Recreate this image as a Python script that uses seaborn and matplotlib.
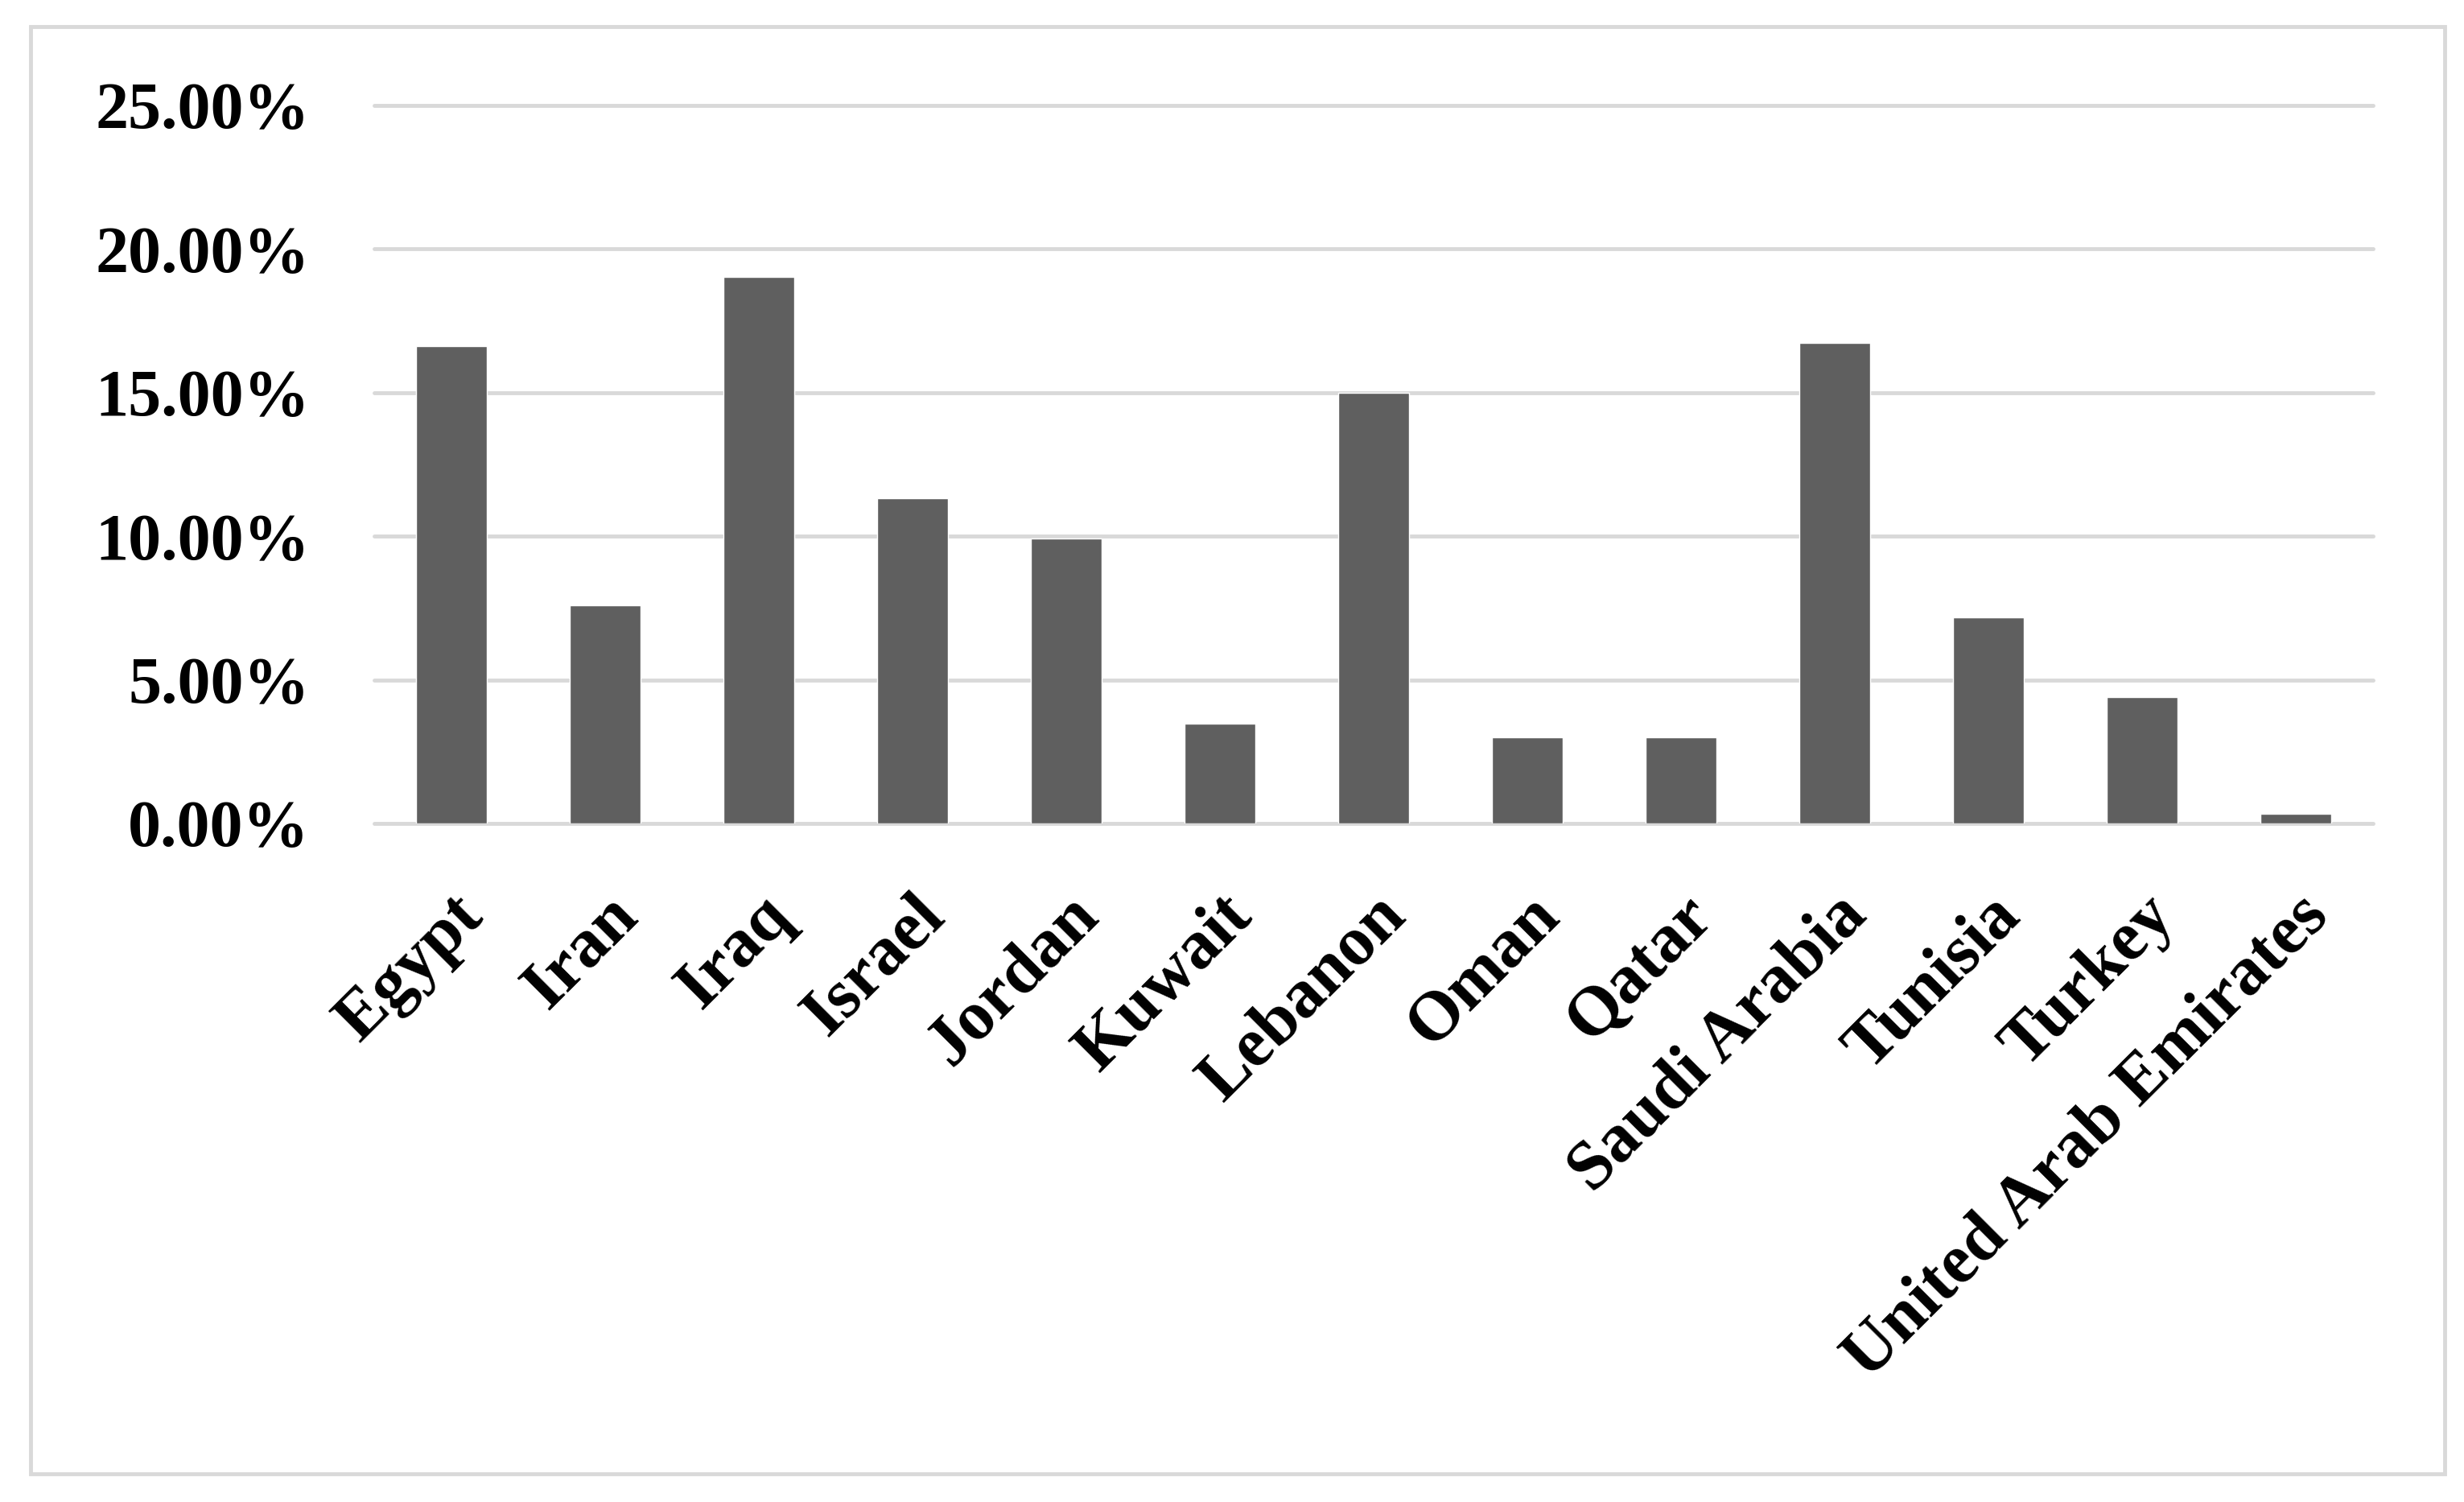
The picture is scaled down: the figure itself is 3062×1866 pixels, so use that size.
import matplotlib
matplotlib.use('Agg')
import matplotlib.pyplot as plt
import seaborn as sns
from matplotlib.patches import Rectangle

countries = ['Egypt', 'Iran', 'Iraq', 'Israel', 'Jordan', 'Kuwait', 'Lebanon',
             'Oman', 'Qatar', 'Saudi Arabia', 'Tunisia', 'Turkey',
             'United Arab Emirates']
shares = [16.62, 7.60, 19.03, 11.31, 9.93, 3.47, 15.00,
          3.00, 3.00, 16.74, 7.16, 4.39, 0.33]
y_ticks = [0, 5, 10, 15, 20, 25]

sns.set_style('white')
plt.rcParams['font.family'] = ['Liberation Serif', 'DejaVu Serif']
plt.rcParams['font.weight'] = 'bold'

fig = plt.figure(figsize=(30.62, 18.66), dpi=100)
ax = fig.add_axes([0.1519, 0.4518, 0.8111, 0.4780])

sns.barplot(x=countries, y=shares, color='#5f5f5f', saturation=1,
            width=0.46, ax=ax)

ax.set_xlim(-0.5, len(countries) - 0.5)
ax.set_ylim(0, 25)
ax.set_yticks(y_ticks)
ax.set_yticklabels([f'{v:.2f}%' for v in y_ticks], fontsize=59, fontweight='bold')
ax.set_xticks(range(len(countries)))
ax.set_xticklabels(countries, fontsize=62, fontweight='bold', rotation=45,
                   ha='right', va='top', rotation_mode='anchor')
ax.tick_params(axis='both', length=0, labelcolor='black')
ax.tick_params(axis='y', pad=58)
ax.tick_params(axis='x', pad=54)

ax.set_axisbelow(True)
ax.yaxis.grid(True, color='#d9d9d9', linewidth=3.5)
for line in ax.get_ygridlines():
    line.set_clip_on(False)
for s in ax.spines.values():
    s.set_visible(False)

# light grey frame around the whole chart
fig.patches.append(Rectangle((38 / 3062, 1 - 1831 / 1866), 3000 / 3062, 1798 / 1866,
                             transform=fig.transFigure, fill=False,
                             edgecolor='#d9d9d9', linewidth=3.5))

plt.savefig('out.png', dpi=100, facecolor='white')
